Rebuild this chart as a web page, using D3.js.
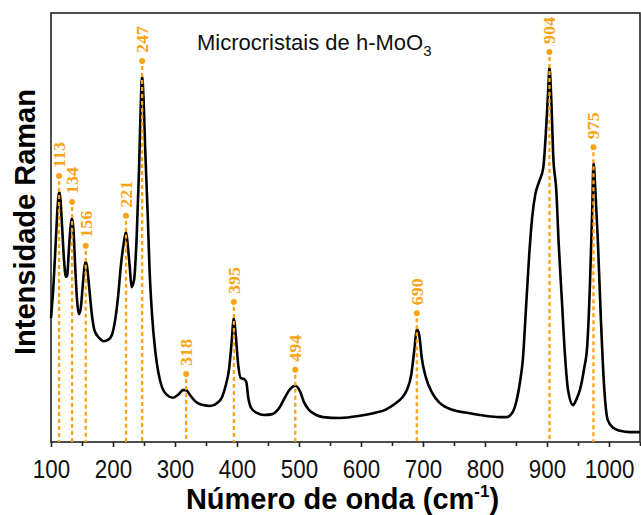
<!DOCTYPE html>
<html>
<head>
<meta charset="utf-8">
<script src="https://cdn.jsdelivr.net/npm/d3@7"></script>
<style>
  body { margin: 0; background: #fff; }
  svg { display: block; font-family: Arial, "Liberation Sans", Helvetica, sans-serif; }
</style>
</head>
<body>
<svg id="chart" width="641" height="515"></svg>
<script>
// Raman spectrum of h-MoO3 microcrystals (wavenumber in cm-1, intensity in arbitrary units)
const wavenumbers = [
  100, 104, 108, 111, 113, 115, 118, 121, 124, 126, 129, 132, 134, 136, 139, 142, 145, 148, 151, 154, 156, 158, 162, 166, 170,
  178, 185, 192, 198, 203, 208, 213, 217, 221, 224, 227, 230, 234, 238, 242, 245, 247, 249, 252, 256, 259, 263, 268, 273, 279,
  287, 297, 305, 313, 318, 324, 334, 345, 357, 368, 376, 382, 387, 391, 395, 398, 402, 406, 411, 415, 418, 423, 432, 444, 457,
  468, 477, 486, 494, 502, 508, 516, 528, 539, 566, 598, 623, 639, 655, 666, 674, 681, 686, 690, 694, 698, 705, 715, 727, 747,
  771, 800, 824, 835, 844, 850, 857, 861, 866, 871, 876, 881, 887, 894, 898, 902, 904, 907, 910, 915, 919, 924, 929, 934, 942,
  947, 953, 960, 965, 969, 973, 975, 978, 982, 987, 992, 998, 1007, 1018, 1034, 1050
];
const intensities = [
  28.9, 36.6, 47.6, 55.5, 58.3, 56.9, 49.9, 42.4, 38.5, 38.7, 45.2, 50.8, 52.2, 49.9, 41.0, 33.1, 29.8, 31.2, 36.1, 40.8, 42.0, 41.0, 35.4, 29.6, 26.1,
  24.2, 23.5, 23.8, 24.9, 28.0, 33.6, 41.5, 46.0, 49.0, 45.6, 40.8, 36.1, 37.8, 47.1, 63.4, 79.7, 85.1, 80.9, 68.1, 52.9, 40.1, 29.6, 21.4, 16.3, 12.8,
  11.0, 10.3, 11.0, 12.1, 12.1, 11.0, 9.3, 8.6, 8.4, 9.1, 10.5, 13.3, 16.8, 22.6, 28.9, 24.9, 17.9, 14.9, 14.7, 14.0, 10.5, 7.9, 6.8, 6.3, 6.5,
  7.9, 10.3, 12.4, 13.1, 11.7, 9.3, 7.5, 6.3, 5.8, 5.6, 6.1, 6.8, 7.5, 8.9, 10.3, 12.1, 15.6, 21.4, 26.3, 24.9, 19.6, 14.9, 11.4, 9.1, 7.5,
  6.8, 6.1, 5.8, 5.8, 6.8, 9.1, 14.5, 19.1, 30.8, 42.9, 52.2, 57.6, 60.6, 63.9, 71.6, 82.1, 87.2, 79.7, 66.9, 58.7, 45.9, 33.1, 20.3, 12.1, 8.6,
  9.8, 12.1, 17.2, 22.6, 35.4, 54.1, 65.0, 58.7, 47.1, 28.4, 13.3, 5.1, 3.3, 2.6, 2.3, 2.3
];

// Assigned band positions (cm-1)
const peakPositions = [113, 134, 156, 221, 247, 318, 395, 494, 690, 904, 975];

// Axis ticks
const majorTicks = [100, 200, 300, 400, 500, 600, 700, 800, 900, 1000];
const minorTicks = [150, 250, 350, 450, 550, 650, 750, 850, 950, 1050];

const chartTitle = "Microcristais de h-MoO";
const titleSubscript = "3";
const xLabel = "Número de onda (cm";
const xLabelSup = "-1";
const yLabel = "Intensidade Raman";

const spectrum = wavenumbers.map((w, i) => ({ w, v: intensities[i] }));

const svg = d3.select("#chart");
const plotLeft = 51, plotRight = 640, plotTop = 13, plotBottom = 442;
const orange = "#f9a316";

const x = d3.scaleLinear().domain([100, 1051]).range([plotLeft, plotRight + 0.6]);
const y = d3.scaleLinear().domain([0, 100]).range([plotBottom, plotTop]);

// Plot frame
svg.append("rect")
  .attr("x", plotLeft).attr("y", plotTop)
  .attr("width", plotRight - plotLeft).attr("height", plotBottom - plotTop)
  .attr("fill", "none").attr("stroke", "#222").attr("stroke-width", 1.6);

// Spectrum line
const line = d3.line().x(d => x(d.w)).y(d => y(d.v)).curve(d3.curveMonotoneX);
svg.append("path")
  .datum(spectrum)
  .attr("d", line)
  .attr("fill", "none")
  .attr("stroke", "#000")
  .attr("stroke-width", 2.6)
  .attr("stroke-linejoin", "round");

// Band markers: dashed guide, dot and rotated label
const peaks = peakPositions.map(p => spectrum.find(d => d.w === p));
const dotOffset = 16;
const markers = svg.append("g").attr("class", "bands");
markers.selectAll("line")
  .data(peaks).join("line")
  .attr("x1", d => x(d.w)).attr("x2", d => x(d.w))
  .attr("y1", d => y(d.v) - dotOffset + 5).attr("y2", plotBottom)
  .attr("stroke", orange).attr("stroke-width", 2.3)
  .attr("stroke-dasharray", "4,3");
markers.selectAll("circle")
  .data(peaks).join("circle")
  .attr("cx", d => x(d.w)).attr("cy", d => y(d.v) - dotOffset)
  .attr("r", 3).attr("fill", orange);
markers.selectAll("text")
  .data(peaks).join("text")
  .attr("transform", d => `translate(${x(d.w)},${y(d.v) - dotOffset - 8}) rotate(-90) scale(1,0.92)`)
  .attr("dy", "0.35em")
  .attr("text-anchor", "start")
  .attr("fill", orange)
  .attr("font-family", "'Times New Roman', 'Liberation Serif', serif")
  .attr("font-weight", "bold")
  .attr("font-size", 18)
  .text(d => d.w);

// Bottom axis: major ticks with labels, minor ticks without
const axisMajor = svg.append("g")
  .attr("transform", `translate(0,${plotBottom})`)
  .call(d3.axisBottom(x).tickValues(majorTicks).tickSize(5).tickFormat(d3.format("d")));
axisMajor.select(".domain").remove();
axisMajor.selectAll(".tick line").attr("stroke", "#222").attr("stroke-width", 1.6);
axisMajor.selectAll(".tick text")
  .attr("y", 0).attr("dy", 0)
  .attr("transform", "translate(0,36) scale(0.86,1)")
  .attr("font-size", 26)
  .attr("font-family", "Arial, 'Liberation Sans', sans-serif")
  .attr("fill", "#111");

const axisMinor = svg.append("g")
  .attr("transform", `translate(0,${plotBottom})`)
  .call(d3.axisBottom(x).tickValues(minorTicks.filter(t => x(t) <= plotRight)).tickSize(4).tickFormat(""));
axisMinor.select(".domain").remove();
axisMinor.selectAll(".tick line").attr("stroke", "#222").attr("stroke-width", 1.6);

// Axis titles
const xt = svg.append("text")
  .attr("x", (plotLeft + plotRight) / 2 - 3).attr("y", 509)
  .attr("text-anchor", "middle")
  .attr("font-weight", "bold").attr("font-size", 29).attr("fill", "#000");
xt.append("tspan").text(xLabel);
xt.append("tspan").attr("font-size", 17).attr("dy", -12).text(xLabelSup);
xt.append("tspan").attr("dy", 12).text(")");

svg.append("text")
  .attr("transform", "translate(25,222) rotate(-90)")
  .attr("dy", "0.35em")
  .attr("text-anchor", "middle")
  .attr("font-weight", "bold").attr("font-size", 29).attr("fill", "#000")
  .text(yLabel);

// Chart title inside the plot
const tt = svg.append("text")
  .attr("x", 197).attr("y", 50)
  .attr("font-size", 22).attr("fill", "#111");
tt.append("tspan").text(chartTitle);
tt.append("tspan").attr("font-size", 15).attr("dy", 6).text(titleSubscript);
</script>
</body>
</html>
